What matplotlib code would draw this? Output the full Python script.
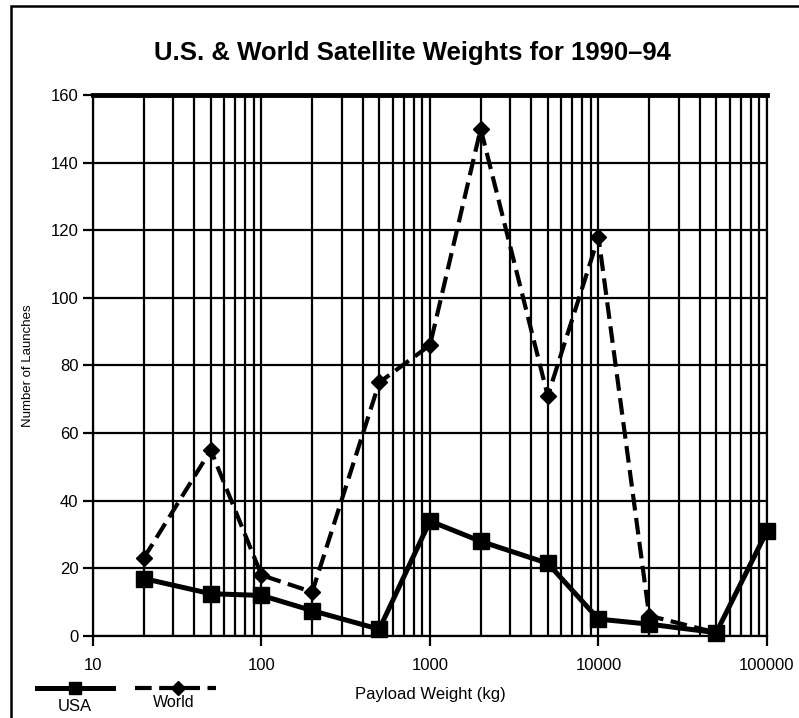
import matplotlib.pyplot as plt
from matplotlib.lines import Line2D
from matplotlib.patches import Rectangle
from matplotlib.ticker import LogLocator, NullFormatter, FixedLocator

plt.rcParams['font.family'] = ['Liberation Sans', 'DejaVu Sans']

# payload weight bins (kg) and launches, 1990-94
weights = [20, 50, 100, 200, 500, 1000, 2000, 5000, 10000, 20000, 50000, 100000]
usa = [17, 12.5, 12, 7.5, 2, 34, 28, 21.5, 5, 3.5, 1, 31]
world_weights = [20, 50, 100, 200, 500, 1000, 2000, 5000, 10000, 20000, 50000]
world = [23, 55, 18, 13, 75, 86, 150, 71, 118, 6, 1]

yticks = [0, 20, 40, 60, 80, 100, 120, 140, 160]
xticks = [10, 100, 1000, 10000, 100000]

fig = plt.figure(figsize=(7.99, 7.18), dpi=100)
ax = fig.add_axes([0.1164, 0.1142, 0.8435, 0.7535])

ax.set_xscale('log')
ax.set_xlim(10, 100000)
ax.set_ylim(0, 160)

ax.xaxis.set_major_locator(FixedLocator(xticks))
ax.xaxis.set_minor_locator(LogLocator(base=10, subs=range(2, 10)))
ax.xaxis.set_minor_formatter(NullFormatter())
ax.set_xticklabels([str(t) for t in xticks])
ax.set_yticks(yticks)

ax.grid(True, which='major', axis='both', color='black', lw=1.6)
ax.grid(True, which='minor', axis='x', color='black', lw=1.6)
ax.tick_params(axis='both', which='major', direction='out', length=7, width=1.6,
               labelsize=12, color='black')
ax.tick_params(axis='x', which='minor', length=0)
ax.tick_params(axis='x', pad=9)

for s in ['left', 'bottom', 'right']:
    ax.spines[s].set_linewidth(1.6)
ax.spines['top'].set_linewidth(3.5)
ax.set_axisbelow(True)

ax.plot(weights, usa, color='black', lw=3.6, marker='s', markersize=11,
        label='USA', clip_on=False, zorder=4)
ax.plot(world_weights, world, color='black', lw=3, ls=(0, (4, 1.8)), marker='D',
        markersize=8, label='World', clip_on=False, zorder=3)

ax.set_xlabel('Payload Weight (kg)', fontsize=12, labelpad=10)
ax.set_ylabel('Number of Launches', fontsize=9.5, labelpad=12)
fig.suptitle('U.S. & World Satellite Weights for 1990\u201394', fontsize=18.5,
             fontweight='bold', x=0.516, y=0.943)

# legend drawn below the axis, labels under the handles
fig.add_artist(Line2D([0.046, 0.141], [0.042, 0.042], color='black', lw=3.6,
                      transform=fig.transFigure))
fig.add_artist(Line2D([0.094], [0.042], color='black', marker='s', markersize=8,
                      transform=fig.transFigure))
fig.add_artist(Line2D([0.169, 0.27], [0.042, 0.042], color='black', lw=3,
                      ls=(0, (4, 1.8)), transform=fig.transFigure))
fig.add_artist(Line2D([0.223], [0.042], color='black', marker='D', markersize=7,
                      transform=fig.transFigure))
fig.text(0.094, 0.016, 'USA', ha='center', va='center', fontsize=12)
fig.text(0.217, 0.022, 'World', ha='center', va='center', fontsize=11.5)

# outer frame
fig.add_artist(Rectangle((0.0138, -0.01), 1.0, 1.0016, fill=False, lw=1.8,
                         edgecolor='black', transform=fig.transFigure))

fig.savefig('out.png', dpi=100)
